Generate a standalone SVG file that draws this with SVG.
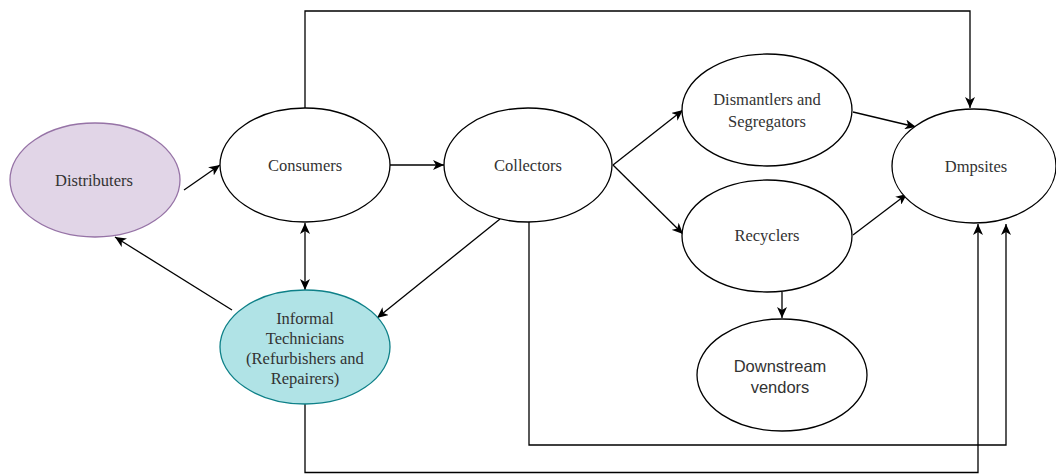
<svg xmlns="http://www.w3.org/2000/svg" width="1056" height="474" viewBox="0 0 1056 474">
<defs>
<marker id="arr" viewBox="0 0 11 10" refX="11" refY="5" markerWidth="11" markerHeight="10" markerUnits="userSpaceOnUse" orient="auto-start-reverse">
<path d="M0,0 L11,5 L0,10 L3,5 Z" fill="#000"/>
</marker>
<style>
.n{fill:#fff;stroke:#000;stroke-width:1.3}
.t{font-family:"Liberation Serif","Times New Roman",serif;font-size:16.5px;fill:#333;text-anchor:middle;dominant-baseline:central}
.s{font-family:"Liberation Sans",Arial,sans-serif;font-size:16.5px;fill:#333;text-anchor:middle;dominant-baseline:central}
.c{fill:none;stroke:#000;stroke-width:1.3}
</style>
</defs>
<rect width="1056" height="474" fill="#fff"/>
<g id="connectors">
<path class="c" d="M305,108 V11 H970 V108" marker-end="url(#arr)"/>
<path class="c" d="M184,190 L220,165" marker-end="url(#arr)"/>
<path class="c" d="M390,165 L444,165" marker-end="url(#arr)"/>
<path class="c" d="M305,223 L305,290" marker-start="url(#arr)" marker-end="url(#arr)"/>
<path class="c" d="M232,310 L115,237" marker-end="url(#arr)"/>
<path class="c" d="M500,219 L377,318" marker-end="url(#arr)"/>
<path class="c" d="M613,165 L683,110" marker-end="url(#arr)"/>
<path class="c" d="M613,165 L683,234" marker-end="url(#arr)"/>
<path class="c" d="M853,112 L916,127" marker-end="url(#arr)"/>
<path class="c" d="M853,235 L907,194" marker-end="url(#arr)"/>
<path class="c" d="M782,292 L782,318" marker-end="url(#arr)"/>
<path class="c" d="M529,222 V445 H1006 V224" marker-end="url(#arr)"/>
<path class="c" d="M305,404 V472.5 H978 V224" marker-end="url(#arr)"/>
</g>
<g id="distributers">
<ellipse cx="95" cy="180" rx="85" ry="57" fill="#e1d5e7" stroke="#9673a6" stroke-width="1.3"/>
<text class="t" x="94" y="180">Distributers</text>
</g>
<g id="consumers">
<ellipse class="n" cx="305" cy="165" rx="85" ry="57"/>
<text class="t" x="305" y="165">Consumers</text>
</g>
<g id="collectors">
<ellipse class="n" cx="528" cy="165" rx="84" ry="57"/>
<text class="t" x="528" y="165">Collectors</text>
</g>
<g id="dismantlers">
<ellipse class="n" cx="767" cy="110" rx="85" ry="56"/>
<text class="t" x="767" y="99">Dismantlers and</text>
<text class="t" x="767" y="121">Segregators</text>
</g>
<g id="recyclers">
<ellipse class="n" cx="767" cy="236" rx="85" ry="56"/>
<text class="t" x="767" y="235">Recyclers</text>
</g>
<g id="dmpsites">
<ellipse class="n" cx="974" cy="166" rx="82" ry="57"/>
<text class="t" x="976" y="166">Dmpsites</text>
</g>
<g id="informal">
<ellipse cx="305" cy="347" rx="85" ry="57" fill="#b0e3e6" stroke="#0e8088" stroke-width="1.3"/>
<text class="t" x="305" y="318">Informal</text>
<text class="t" x="305" y="338">Technicians</text>
<text class="t" x="305" y="358">(Refurbishers and</text>
<text class="t" x="305" y="378">Repairers)</text>
</g>
<g id="downstream">
<ellipse class="n" cx="782" cy="375" rx="85" ry="56"/>
<text class="s" x="780" y="366">Downstream</text>
<text class="s" x="780" y="387">vendors</text>
</g>
</svg>
